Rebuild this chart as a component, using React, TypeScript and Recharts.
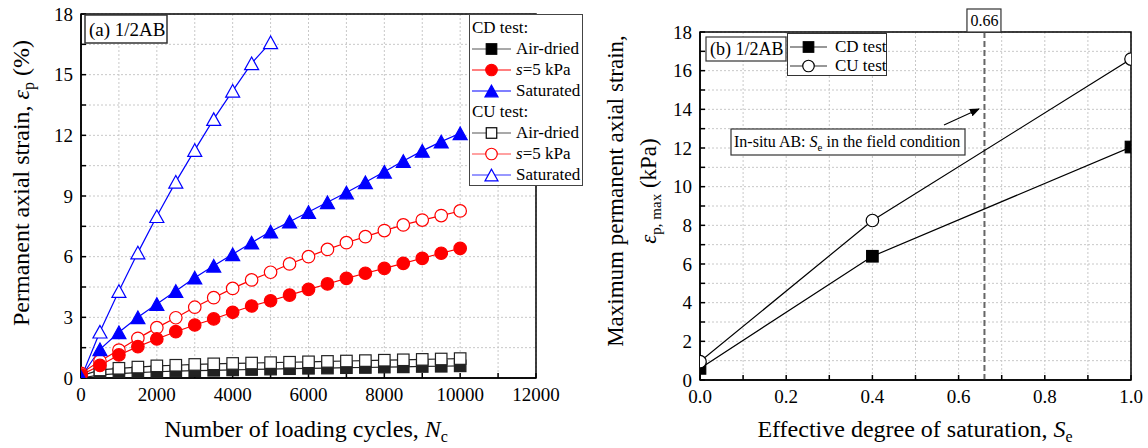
import React from 'react';
import {
  LineChart,
  Line,
  XAxis,
  YAxis,
  CartesianGrid,
  Legend,
  ReferenceLine,
  ReferenceArea,
} from 'recharts';

const FONT = '"Liberation Serif", "Times New Roman", Times, serif';

// ---- (a) permanent strain vs loading cycles ----
const cycles = [
  0, 500, 1000, 1500, 2000, 2500, 3000, 3500, 4000, 4500, 5000,
  5500, 6000, 6500, 7000, 7500, 8000, 8500, 9000, 9500, 10000,
];
const cyclesCuSat = [0, 500, 1000, 1500, 2000, 2500, 3000, 3500, 4000, 4500, 5000];

const cdAirDried = [0, 0.15, 0.22, 0.27, 0.31, 0.34, 0.36, 0.38, 0.4, 0.42, 0.44, 0.46, 0.48, 0.49, 0.51, 0.52, 0.54, 0.55, 0.57, 0.58, 0.6];
const cdS5 = [0.15, 0.62, 1.14, 1.55, 1.93, 2.29, 2.62, 2.92, 3.25, 3.56, 3.82, 4.1, 4.38, 4.65, 4.93, 5.18, 5.42, 5.67, 5.92, 6.17, 6.41];
const cdSaturated = [0.05, 1.42, 2.26, 3.0, 3.66, 4.3, 4.96, 5.55, 6.12, 6.69, 7.24, 7.73, 8.21, 8.69, 9.17, 9.68, 10.2, 10.73, 11.23, 11.69, 12.1];
const cuAirDried = [0.1, 0.4, 0.48, 0.54, 0.6, 0.63, 0.67, 0.7, 0.72, 0.74, 0.76, 0.78, 0.8, 0.82, 0.84, 0.86, 0.88, 0.9, 0.92, 0.94, 0.96];
const cuS5 = [0.23, 0.84, 1.38, 1.96, 2.49, 2.98, 3.5, 3.97, 4.43, 4.85, 5.23, 5.64, 6.0, 6.36, 6.69, 6.99, 7.29, 7.57, 7.81, 8.03, 8.26];
const cuSaturated = [0, 2.29, 4.3, 6.2, 8.0, 9.7, 11.27, 12.8, 14.2, 15.56, 16.6];

const cycleTicks = [0, 1000, 2000, 3000, 4000, 5000, 6000, 7000, 8000, 9000, 10000, 11000, 12000];
const strainTicks = [0, 1.5, 3, 4.5, 6, 7.5, 9, 10.5, 12, 13.5, 15, 16.5, 18];

// ---- (b) max strain vs effective saturation ----
const saturation = [0, 0.4, 1.0];
const cdMax = [0.6, 6.4, 12.05];
const cuMax = [0.95, 8.25, 16.6];
const saturationTicks = [0, 0.1, 0.2, 0.3, 0.4, 0.5, 0.6, 0.7, 0.8, 0.9, 1.0];
const maxStrainTicks = [0, 1, 2, 3, 4, 5, 6, 7, 8, 9, 10, 11, 12, 13, 14, 15, 16, 17, 18];
const fieldSe = 0.66;

type Shape = 'square' | 'circle' | 'triangle';

interface Series {
  key: string;
  label: string;
  xs: number[];
  values: number[];
  color: string;
  legendColor: string;
  shape: Shape;
  filled: boolean;
}

const cdSeries: Series[] = [
  { key: 'cdAir', label: 'Air-dried', xs: cycles, values: cdAirDried, color: '#222', legendColor: '#555', shape: 'square', filled: true },
  { key: 'cdS5', label: 's=5 kPa', xs: cycles, values: cdS5, color: '#ff0000', legendColor: '#ff0000', shape: 'circle', filled: true },
  { key: 'cdSat', label: 'Saturated', xs: cycles, values: cdSaturated, color: '#0000ff', legendColor: '#0000ff', shape: 'triangle', filled: true },
];
const cuSeries: Series[] = [
  { key: 'cuAir', label: 'Air-dried', xs: cycles, values: cuAirDried, color: '#222', legendColor: '#555', shape: 'square', filled: false },
  { key: 'cuS5', label: 's=5 kPa', xs: cycles, values: cuS5, color: '#ff0000', legendColor: '#ff4444', shape: 'circle', filled: false },
  { key: 'cuSat', label: 'Saturated', xs: cyclesCuSat, values: cuSaturated, color: '#0000ff', legendColor: '#3333ff', shape: 'triangle', filled: false },
];

function Marker({ cx, cy, shape, color, filled, size }: { cx: number; cy: number; shape: Shape; color: string; filled: boolean; size: number }) {
  const fill = filled ? color : '#fff';
  if (shape === 'circle') {
    return <circle cx={cx} cy={cy} r={size / 2} fill={fill} stroke={color} strokeWidth={1.2} />;
  }
  if (shape === 'square') {
    return <rect x={cx - size / 2} y={cy - size / 2} width={size} height={size} fill={fill} stroke={color} strokeWidth={1.2} />;
  }
  const h = size * 0.9;
  const pts = `${cx},${cy - h / 2} ${cx - size / 2},${cy + h / 2} ${cx + size / 2},${cy + h / 2}`;
  return <polygon points={pts} fill={fill} stroke={color} strokeWidth={1.2} />;
}

const markerSize = (shape: Shape) => (shape === 'triangle' ? 14 : shape === 'circle' ? 12.5 : 11.5);

function SeriesLabel({ text }: { text: string }) {
  if (text.startsWith('s=')) {
    return (
      <span>
        <i>s</i>
        {text.slice(1)}
      </span>
    );
  }
  return <span>{text}</span>;
}

function LegendSample({ s, width }: { s: Series; width: number }) {
  return (
    <svg width={width} height={20} style={{ display: 'block', flex: 'none' }}>
      <line x1={1} x2={width - 1} y1={10} y2={10} stroke={s.legendColor} strokeWidth={1.2} />
      <Marker cx={width / 2} cy={10} shape={s.shape} color={s.shape === 'square' ? '#000' : s.color} filled={s.filled} size={markerSize(s.shape) - 1} />
    </svg>
  );
}

function LeftLegend() {
  const row: React.CSSProperties = { display: 'flex', alignItems: 'center', height: 21, whiteSpace: 'nowrap' };
  const group = (title: string, list: Series[]) => (
    <>
      <div style={{ ...row, paddingLeft: 1 }}>{title}</div>
      {list.map((s) => (
        <div key={s.key} style={row}>
          <LegendSample s={s} width={41} />
          <div style={{ marginLeft: 4 }}>
            <SeriesLabel text={s.label} />
          </div>
        </div>
      ))}
    </>
  );
  return (
    <div
      style={{
        border: '1.5px solid #444',
        background: '#fff',
        fontFamily: FONT,
        fontSize: 17,
        color: '#000',
        width: 114,
        padding: '2px 0 0 1px',
        boxSizing: 'border-box',
        lineHeight: '21px',
      }}
    >
      {group('CD test:', cdSeries)}
      {group('CU test:', cuSeries)}
    </div>
  );
}

const maxSeries: Series[] = [
  { key: 'cdMax', label: 'CD test', xs: saturation, values: cdMax, color: '#000', legendColor: '#333', shape: 'square', filled: true },
  { key: 'cuMax', label: 'CU test', xs: saturation, values: cuMax, color: '#000', legendColor: '#333', shape: 'circle', filled: false },
];

function RightLegend() {
  return (
    <div
      style={{
        border: '1.2px solid #333',
        background: '#fff',
        fontFamily: FONT,
        fontSize: 17,
        color: '#000',
        width: 100,
        height: 43,
        padding: '3px 0 0 1px',
        boxSizing: 'border-box',
      }}
    >
      {maxSeries.map((s) => (
        <div key={s.key} style={{ display: 'flex', alignItems: 'center', height: 19.5, whiteSpace: 'nowrap' }}>
          <LegendSample s={s} width={39} />
          <div style={{ marginLeft: 7 }}>{s.label}</div>
        </div>
      ))}
    </div>
  );
}

const tickStyle = { fontFamily: FONT, fontSize: 19, fill: '#000', style: { fontFamily: FONT } };

const renderLine = (s: Series) => (
  <Line
    key={s.key}
    data={s.xs.map((x, i) => ({ x, v: s.values[i] }))}
    dataKey="v"
    type="linear"
    stroke={s.color}
    strokeWidth={1.2}
    isAnimationActive={false}
    legendType="none"
    dot={(p: any) => (
      <Marker key={`${s.key}-${p.index}`} cx={p.cx} cy={p.cy} shape={s.shape} color={s.color} filled={s.filled} size={markerSize(s.shape)} />
    )}
    activeDot={false}
  />
);

function SeLabel(props: any) {
  const vb = props.viewBox || {};
  const x = (vb.x || 0) + (vb.width || 0) / 2;
  const y = vb.y || 0;
  return (
    <g>
      <rect x={x - 17.5} y={y - 23} width={34} height={23} fill="#fff" stroke="#333" strokeWidth={1.2} />
      <text x={x} y={y - 6} textAnchor="middle" fontFamily={FONT} fontSize={16} fill="#000" style={{ fontFamily: FONT }}>
        {fieldSe.toFixed(2)}
      </text>
    </g>
  );
}

function Annotations() {
  return (
    <svg width={1148} height={448} style={{ position: 'absolute', left: 0, top: 0, pointerEvents: 'none', fontFamily: FONT }}>
      <defs>
        <marker id="arrowHead" markerWidth="10" markerHeight="8" refX="9" refY="4" orient="auto" markerUnits="userSpaceOnUse">
          <path d="M0,0 L10,4 L0,8 Z" fill="#000" />
        </marker>
      </defs>
      <g fill="#000">
        {/* panel tags */}
        <rect x={85} y={15} width={82} height={28} fill="#fff" stroke="#333" strokeWidth={1.5} />
        <text x={89} y={36} fontSize={19}>(a) 1/2AB</text>
        <rect x={706} y={37} width={80} height={24} fill="#fff" stroke="#333" strokeWidth={1.2} />
        <text x={710} y={55} fontSize={18}>(b) 1/2AB</text>

        {/* field condition note */}
        <line x1={944} y1={125} x2={979} y2={109} stroke="#000" strokeWidth={1.2} markerEnd="url(#arrowHead)" />
        <rect x={731} y={129} width={234} height={26} fill="#fff" stroke="#333" strokeWidth={1.2} />
        <text x={734} y={147} fontSize={16}>
          In-situ AB: <tspan fontStyle="italic">S</tspan>
          <tspan fontSize={11} dy={4}>e</tspan>
          <tspan dy={-4}> in the field condition</tspan>
        </text>

        {/* axis titles */}
        <text transform="translate(29,183) rotate(-90)" textAnchor="middle" fontSize={24}>
          Permanent axial strain, <tspan fontStyle="italic">ε</tspan>
          <tspan fontSize={16} dy={5}>p</tspan>
          <tspan dy={-5}> (%)</tspan>
        </text>
        <text x={306} y={437} textAnchor="middle" fontSize={24}>
          Number of loading cycles, <tspan fontStyle="italic">N</tspan>
          <tspan fontSize={16} dy={5}>c</tspan>
        </text>
        <text transform="translate(623,191) rotate(-90)" textAnchor="middle" fontSize={23}>
          Maximum permanent axial strain,
        </text>
        <text transform="translate(656,191) rotate(-90)" textAnchor="middle" fontSize={23}>
          <tspan fontStyle="italic">ε</tspan>
          <tspan fontSize={15} dy={5}>p, max</tspan>
          <tspan dy={-5}> (kPa)</tspan>
        </text>
        <text x={915} y={437} textAnchor="middle" fontSize={24}>
          Effective degree of saturation, <tspan fontStyle="italic">S</tspan>
          <tspan fontSize={16} dy={5}>e</tspan>
        </text>
      </g>
    </svg>
  );
}

export default function App() {
  return (
    <div style={{ position: 'absolute', left: 0, top: 0, width: 1148, height: 448, background: '#fff', overflow: 'hidden', fontFamily: FONT }}>
      <div style={{ position: 'absolute', left: 0, top: 0 }}>
        <LineChart width={600} height={448} margin={{ top: 14, right: 64, bottom: 40, left: 41 }} style={{ fontFamily: FONT }}>
          <CartesianGrid stroke="#c8c8c8" strokeDasharray="2 2" />
          <XAxis
            type="number"
            dataKey="x"
            domain={[0, 12000]}
            ticks={cycleTicks}
            interval={0}
            tickFormatter={(v: number) => (v % 2000 === 0 ? String(v) : '')}
            height={30}
            stroke="#000"
            strokeWidth={1.5}
            tick={tickStyle}
            tickSize={-5}
            tickMargin={15}
            allowDataOverflow
          />
          <YAxis
            type="number"
            domain={[0, 18]}
            ticks={strainTicks}
            interval={0}
            tickFormatter={(v: number) => (v % 3 === 0 ? String(v) : '')}
            width={40}
            stroke="#000"
            strokeWidth={1.5}
            tick={tickStyle}
            tickSize={-5}
            tickMargin={13}
            allowDataOverflow
          />
          <ReferenceArea x1={0} x2={12000} y1={0} y2={18} fill="none" stroke="#000" strokeWidth={1.5} ifOverflow="visible" />
          {[...cdSeries.slice(0, 1), ...cuSeries.slice(0, 1)].map(renderLine)}
          {[cuSeries[1], cdSeries[1], cuSeries[2], cdSeries[2]].map(renderLine)}
          <Legend
            layout="vertical"
            align="center"
            verticalAlign="middle"
            content={() => <LeftLegend />}
            wrapperStyle={{ left: 469, top: 14, width: 'auto', height: 'auto' }}
          />
        </LineChart>
      </div>
      <div style={{ position: 'absolute', left: 600, top: 0 }}>
        <LineChart width={548} height={448} margin={{ top: 32, right: 17, bottom: 38, left: 60 }} style={{ fontFamily: FONT }}>
          <CartesianGrid stroke="#c8c8c8" strokeDasharray="2 2" />
          <XAxis
            type="number"
            dataKey="x"
            domain={[0, 1]}
            ticks={saturationTicks}
            interval={0}
            tickFormatter={(v: number) => (Math.round(v * 10) % 2 === 0 ? v.toFixed(1) : '')}
            height={30}
            stroke="#000"
            strokeWidth={1.5}
            tick={tickStyle}
            tickSize={-5}
            tickMargin={15}
            allowDataOverflow
          />
          <YAxis
            type="number"
            domain={[0, 18]}
            ticks={maxStrainTicks}
            interval={0}
            tickFormatter={(v: number) => (v % 2 === 0 ? String(v) : '')}
            width={40}
            stroke="#000"
            strokeWidth={1.5}
            tick={tickStyle}
            tickSize={-5}
            tickMargin={13}
            allowDataOverflow
          />
          <ReferenceArea x1={0} x2={1} y1={0} y2={18} fill="none" stroke="#000" strokeWidth={1.5} ifOverflow="visible" />
          <ReferenceLine x={fieldSe} stroke="#666" strokeWidth={2} strokeDasharray="6 3" label={<SeLabel />} />
          {maxSeries.map(renderLine)}
          <Legend
            layout="vertical"
            align="center"
            verticalAlign="middle"
            content={() => <RightLegend />}
            wrapperStyle={{ left: 187, top: 33, width: 'auto', height: 'auto' }}
          />
        </LineChart>
      </div>
      <Annotations />
    </div>
  );
}
